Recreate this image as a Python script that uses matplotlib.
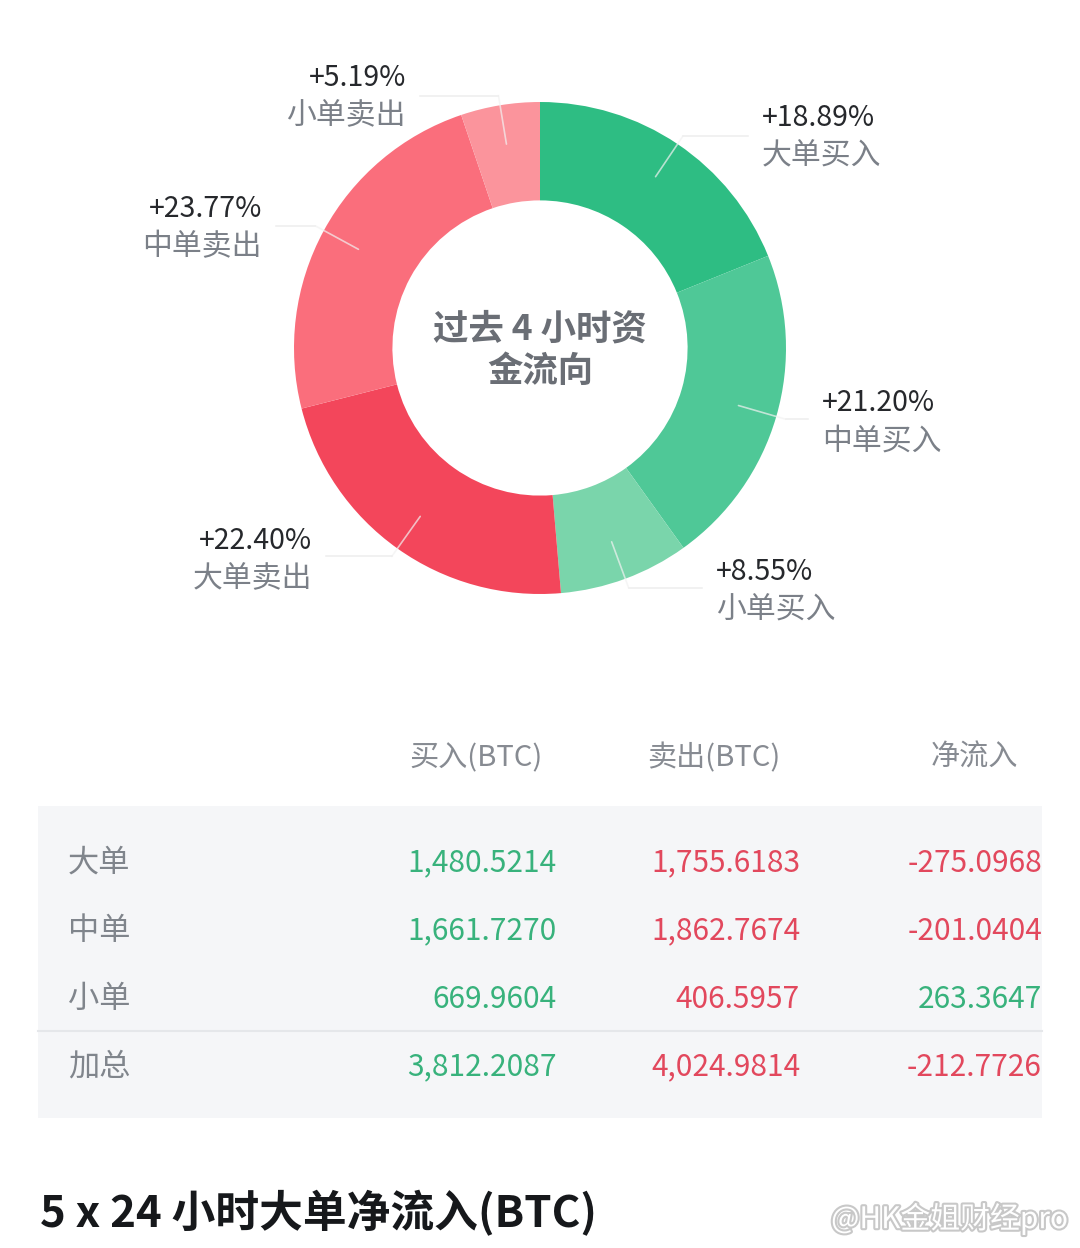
import numpy as np
import matplotlib
matplotlib.use("Agg")
import matplotlib.pyplot as plt
import matplotlib.patheffects as pe
from matplotlib.patches import Rectangle

plt.rcParams['font.family'] = ['Noto Sans CJK SC', 'DejaVu Sans']

# donut data (clockwise from 12 o'clock)
slice_names = ['大单买入', '中单买入', '小单买入', '大单卖出', '中单卖出', '小单卖出']
slice_pcts = [18.89, 21.20, 8.55, 22.40, 23.77, 5.19]
slice_colors = ['#2ebd83', '#4fc897', '#7ad5ab', '#f3465b', '#fa6e7c', '#fb949c']
# label anchor (x, y of percent line) in pixels, and alignment
label_pos = [(762, 118, 'left'), (822, 403, 'left'), (716, 572, 'left'),
             (312, 541, 'right'), (262, 209, 'right'), (406, 78, 'right')]

# table data
col_heads = ['买入(BTC)', '卖出(BTC)', '净流入']
row_names = ['大单', '中单', '小单', '加总']
buy_vals = [1480.5214, 1661.7270, 669.9604, 3812.2087]
sell_vals = [1755.6183, 1862.7674, 406.5957, 4024.9814]
net_vals = [-275.0968, -201.0404, 263.3647, -212.7726]

W, H = 1080, 1248
fig = plt.figure(figsize=(W / 100, H / 100), dpi=100)
fig.patch.set_facecolor('white')

# donut axes, placed in pixels
cx, cy, R = 540, 348, 246
ax_pie = fig.add_axes([(cx - R) / W, 1 - (cy + R) / H, 2 * R / W, 2 * R / H])
wedges, _ = ax_pie.pie(slice_pcts, colors=slice_colors, startangle=90, counterclock=False,
                       radius=1.0, wedgeprops=dict(width=0.40, linewidth=0))
ax_pie.set_xlim(-1, 1)
ax_pie.set_ylim(-1, 1)
ax_pie.axis('off')

# overlay axes in pixel coordinates
ax = fig.add_axes([0, 0, 1, 1], zorder=5)
ax.set_xlim(0, W)
ax.set_ylim(H, 0)
ax.axis('off')
ax.patch.set_alpha(0)

pct_color = '#26282c'
name_color = '#7b8088'
for w, pct, name, (lx, ly, ha) in zip(wedges, slice_pcts, slice_names, label_pos):
    mid = np.deg2rad((w.theta1 + w.theta2) / 2)
    x0, y0 = cx + 0.84 * R * np.cos(mid), cy - 0.84 * R * np.sin(mid)
    x1, y1 = cx + 1.04 * R * np.cos(mid), cy - 1.04 * R * np.sin(mid)
    x2 = lx - 14 if ha == 'left' else lx + 14
    ax.plot([x0, x1], [y0, y1], color='#f2f2f2', lw=1.2, alpha=0.7, solid_capstyle='round')
    ax.plot([x1, x2], [y1, y1], color='#eeeeee', lw=1.1)
    ax.text(lx, ly, f'+{pct:.2f}%', ha=ha, va='center', fontsize=20.5, color=pct_color)
    ax.text(lx, ly + 38, name, ha=ha, va='center', fontsize=21.5, color=name_color)

ax.text(cx, 329, '过去 4 小时资', ha='center', va='center', fontsize=25.5,
        fontweight='bold', color='#6a6e75')
ax.text(cx, 371, '金流向', ha='center', va='center', fontsize=25.5,
        fontweight='bold', color='#6a6e75')

# table
green, red = '#38b27c', '#e2485d'
ax.add_patch(Rectangle((38, 806), 1004, 312, facecolor='#f5f6f8', edgecolor='none'))
ax.plot([38, 1042], [1031, 1031], color='#e5e7ea', lw=1.5)
head_x = [543, 780, 1018]
num_x = [557, 800, 1042]
for hx, hd in zip(head_x, col_heads):
    ax.text(hx, 758, hd, ha='right', va='center', fontsize=21, color='#878b92')
row_y = [863, 931, 999, 1067]
for ry, nm, b, s, n in zip(row_y, row_names, buy_vals, sell_vals, net_vals):
    ax.text(68, ry, nm, ha='left', va='center', fontsize=22.5, color='#80858c')
    ax.text(num_x[0], ry, f'{b:,.4f}', ha='right', va='center', fontsize=21.5, color=green)
    ax.text(num_x[1], ry, f'{s:,.4f}', ha='right', va='center', fontsize=21.5, color=red)
    ax.text(num_x[2], ry, f'{n:,.4f}', ha='right', va='center', fontsize=21.5,
            color=green if n > 0 else red)

ax.text(40, 1213, '5 x 24 小时大单净流入(BTC)', ha='left', va='center', fontsize=31.5,
        fontweight='bold', color='#16181b')

ax.text(1068, 1219, '@HK金姐财经pro', ha='right', va='center', fontsize=21.5, color='white',
        path_effects=[pe.withStroke(linewidth=3, foreground='#c8c8c8')])

fig.savefig('out.png', dpi=100, facecolor='white')
